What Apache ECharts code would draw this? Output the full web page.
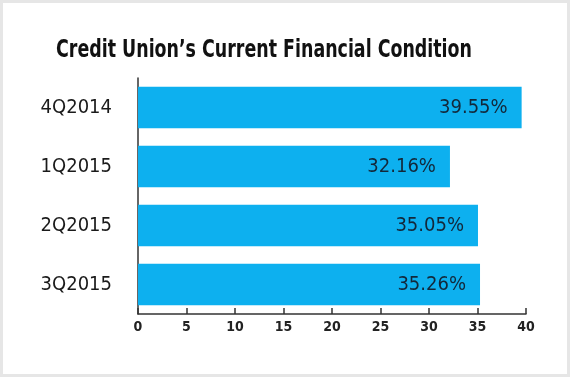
<!DOCTYPE html>
<html>
<head>
<meta charset="utf-8">
<script src="https://cdn.jsdelivr.net/npm/echarts@6/dist/echarts.min.js"></script>
<style>
  html, body { margin: 0; padding: 0; background: #fff; }
  #main { width: 570px; height: 377px; box-sizing: border-box; border: 3px solid #e6e6e6; }
</style>
</head>
<body>
<div id="main"></div>
<script>
  var titleText = "Credit Union\u2019s Current Financial Condition";
  var categories = ['4Q2014', '1Q2015', '2Q2015', '3Q2015'];
  var values = [39.55, 32.16, 35.05, 35.26];
  var tickLabels = ['0', '5', '10', '15', '20', '25', '30', '35', '40'];

  var font = "'DejaVu Sans Condensed', 'Liberation Sans Narrow', sans-serif";

  var chart = echarts.init(document.getElementById('main'));
  chart.setOption({
    animation: false,
    // title drawn as graphic text so it can be squeezed like the condensed original
    graphic: [{
      type: 'text',
      x: 261,
      y: 47,
      scaleX: 0.775,
      style: {
        text: titleText,
        x: 0, y: 0,
        align: 'center',
        verticalAlign: 'middle',
        font: 'bold 25px ' + font,
        fill: '#111'
      }
    }],
    grid: { left: 135, right: 41, top: 75, bottom: 60 },
    xAxis: {
      type: 'value',
      min: 0, max: 40, interval: 5,
      axisLine: { show: true, lineStyle: { color: '#333', width: 1.5 } },
      axisTick: { show: true, inside: true, length: 6, lineStyle: { color: '#333', width: 1.5 } },
      splitLine: { show: false },
      axisLabel: {
        margin: 6, color: '#222', fontSize: 14, fontWeight: 'bold', fontFamily: font,
        formatter: function (v) { return tickLabels[v / 5]; }
      }
    },
    yAxis: {
      type: 'category',
      inverse: true,
      data: categories,
      axisLine: { show: true, lineStyle: { color: '#333', width: 1.5 } },
      axisTick: { show: false },
      axisLabel: { margin: 26, color: '#1a1a1a', fontSize: 20, fontFamily: font }
    },
    series: [{
      type: 'bar',
      data: values,
      barCategoryGap: '30%',
      itemStyle: { color: '#0db0ef' },
      label: {
        show: true,
        position: 'insideRight',
        distance: 14,
        color: '#13283a',
        fontSize: 20,
        fontFamily: font,
        formatter: function (p) { return p.value.toFixed(2) + '%'; }
      }
    }]
  });
</script>
</body>
</html>
